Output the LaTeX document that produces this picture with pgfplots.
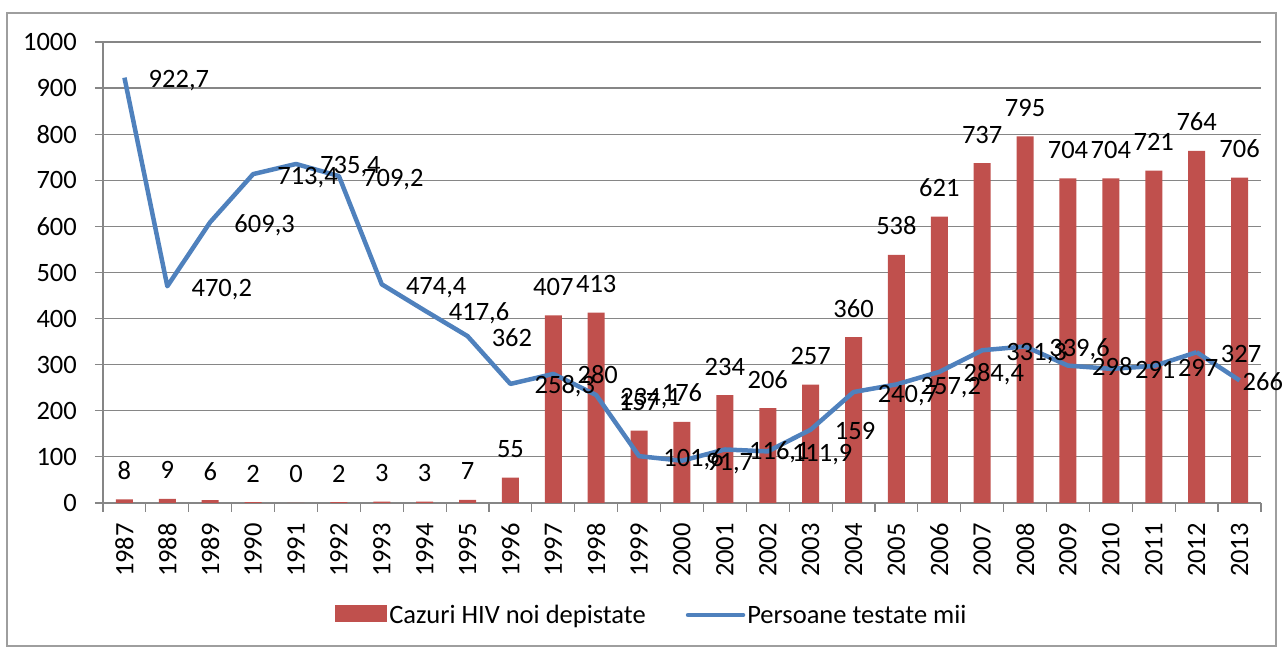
\documentclass[border=0pt]{standalone}
\usepackage{fontspec}
\setmainfont{Carlito}
\usepackage{pgfplots}
\pgfplotsset{compat=1.18}
\definecolor{barred}{HTML}{C0504D}
\definecolor{lineblue}{HTML}{4F81BD}
\definecolor{gridgray}{HTML}{868686}
\newcommand{\lblfont}{\fontsize{26.5}{31}\selectfont}
\begin{document}
\begin{tikzpicture}[x=1pt,y=1pt]
\useasboundingbox (0,0) rectangle (1283,650);
\draw[gridgray!80, line width=1.2pt] (7,4) rectangle (1276,637);
\begin{axis}[
  at={(103pt,147pt)}, anchor=south west,
  scale only axis, width=1158pt, height=461pt,
  xmin=-0.5, xmax=26.5, ymin=0, ymax=1000,
  enlargelimits=false,
  axis x line*=bottom, axis y line*=left,
  ytick={0,100,200,300,400,500,600,700,800,900,1000},
  xtick={0,1,2,3,4,5,6,7,8,9,10,11,12,13,14,15,16,17,18,19,20,21,22,23,24,25,26},
  xticklabels={1987,1988,1989,1990,1991,1992,1993,1994,1995,1996,1997,1998,1999,2000,2001,2002,2003,2004,2005,2006,2007,2008,2009,2010,2011,2012,2013},
  minor xtick={-0.5,0.5,...,26.5},
  tick align=outside,
  major tick length=8pt, minor tick length=9pt,
  ymajorgrids,
  grid style={gridgray, line width=1.2pt},
  axis line style={gridgray, line width=1.2pt},
  tick style={gridgray, line width=1.2pt},
  major x tick style={draw=none},
  ticklabel style={font=\lblfont},
  /pgf/number format/assume math mode=true,
  /pgf/number format/1000 sep={},
  yticklabel style={inner sep=0pt, xshift=-18pt},
  xticklabel style={rotate=90, anchor=east, inner sep=0pt, xshift=-12pt},
  clip=false,
  legend style={at={(0.474,-0.243)}, anchor=center, draw=none, fill=none,
    legend columns=2, font=\lblfont,
    /tikz/every even column/.append style={column sep=38pt},
    nodes={inner sep=2pt}},
  legend cell align=left,
]
\addplot[ybar, bar width=17pt, fill=barred, draw=none,
  nodes near coords,
  every node near coord/.append style={font=\lblfont, anchor=base, inner sep=0pt, yshift=20pt, text=black},
  legend image code/.code={\fill[barred] (0pt,-7pt) rectangle (52pt,10pt);}]
coordinates {
(0,8) (1,9) (2,6) (3,2) (4,0) (5,2) (6,3) (7,3) (8,7) (9,55)
(10,407) (11,413) (12,157) (13,176) (14,234) (15,206) (16,257) (17,360)
(18,538) (19,621) (20,737) (21,795) (22,704) (23,704) (24,721) (25,764) (26,706)
};
\addlegendentry{Cazuri HIV noi depistate}
\addplot[sharp plot, lineblue, line width=4.5pt, line join=round, mark=none,
  nodes near coords={\pgfmathprintnumber[use comma, fixed, precision=1]{\pgfplotspointmeta}},
  every node near coord/.append style={font=\lblfont, anchor=base west, inner sep=0pt, xshift=22pt, yshift=-10pt, text=black},
  legend image code/.code={\draw[lineblue, line width=4.5pt, line cap=round] (0pt,0pt) -- (55pt,0pt);}]
coordinates {
(0,922.7) (1,470.2) (2,609.3) (3,713.4) (4,735.4) (5,709.2) (6,474.4) (7,417.6)
(8,362) (9,258.3) (10,280) (11,234.1) (12,101.6) (13,91.7) (14,116.1) (15,111.9)
(16,159) (17,240.7) (18,257.2) (19,284.4) (20,331.3) (21,339.6) (22,298) (23,291)
(24,297) (25,327)
};
\addlegendentry{Persoane testate mii}
\addplot[sharp plot, lineblue, line width=4.5pt, line join=round, mark=none, forget plot]
coordinates {(25,327) (26,266)};
\addplot[draw=none, mark=none, forget plot,
  nodes near coords={\pgfmathprintnumber[use comma, fixed, precision=1]{\pgfplotspointmeta}},
  every node near coord/.append style={font=\lblfont, anchor=base west, inner sep=0pt, xshift=3pt, yshift=-10pt, text=black}]
coordinates {(26,266)};
\end{axis}
\end{tikzpicture}
\end{document}
